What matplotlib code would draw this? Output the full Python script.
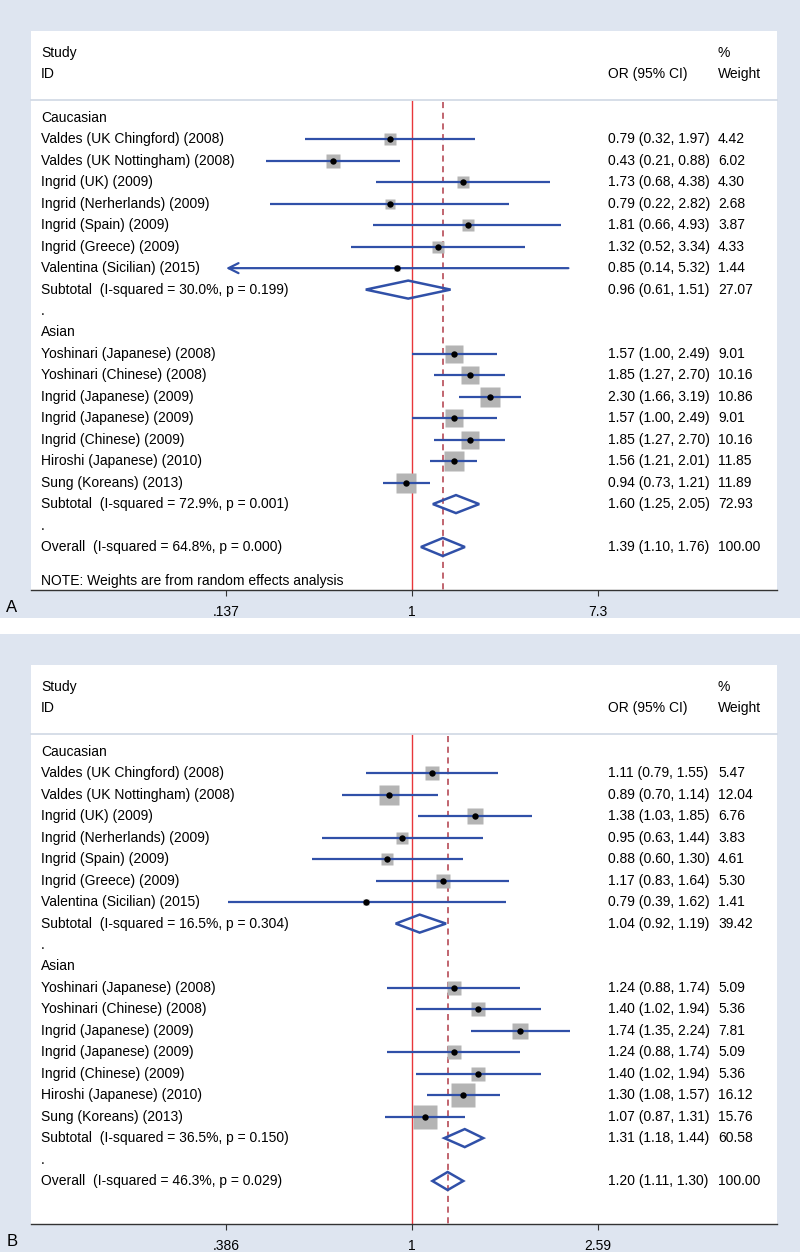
import numpy as np
import matplotlib
matplotlib.use("Agg")
import matplotlib.pyplot as plt
from matplotlib.patches import Rectangle, Polygon

plt.rcParams['font.family'] = ['Liberation Sans', 'DejaVu Sans']

# ---------------- data ----------------
groups = ["Caucasian", "Asian"]
studies_cau = ["Valdes (UK Chingford) (2008)", "Valdes (UK Nottingham) (2008)",
               "Ingrid (UK) (2009)", "Ingrid (Nerherlands) (2009)",
               "Ingrid (Spain) (2009)", "Ingrid (Greece) (2009)",
               "Valentina (Sicilian) (2015)"]
studies_asn = ["Yoshinari (Japanese) (2008)", "Yoshinari (Chinese) (2008)",
               "Ingrid (Japanese) (2009)", "Ingrid (Japanese) (2009)",
               "Ingrid (Chinese) (2009)", "Hiroshi (Japanese) (2010)",
               "Sung (Koreans) (2013)"]

# Panel A
a_or = [0.79, 0.43, 1.73, 0.79, 1.81, 1.32, 0.85, 1.57, 1.85, 2.30, 1.57, 1.85, 1.56, 0.94]
a_lo = [0.32, 0.21, 0.68, 0.22, 0.66, 0.52, 0.14, 1.00, 1.27, 1.66, 1.00, 1.27, 1.21, 0.73]
a_hi = [1.97, 0.88, 4.38, 2.82, 4.93, 3.34, 5.32, 2.49, 2.70, 3.19, 2.49, 2.70, 2.01, 1.21]
a_wt = [4.42, 6.02, 4.30, 2.68, 3.87, 4.33, 1.44, 9.01, 10.16, 10.86, 9.01, 10.16, 11.85, 11.89]
a_sub_or = [0.96, 1.60]
a_sub_lo = [0.61, 1.25]
a_sub_hi = [1.51, 2.05]
a_sub_wt = [27.07, 72.93]
a_sub_i2 = ["30.0%", "72.9%"]
a_sub_p = ["0.199", "0.001"]
a_all = (1.39, 1.10, 1.76, 100.00, "64.8%", "0.000")
a_ticks = [0.137, 1, 7.3]
a_ticklabels = [".137", "1", "7.3"]
a_arrow = [6]  # CI truncated at the left end of the scale

# Panel B
b_or = [1.11, 0.89, 1.38, 0.95, 0.88, 1.17, 0.79, 1.24, 1.40, 1.74, 1.24, 1.40, 1.30, 1.07]
b_lo = [0.79, 0.70, 1.03, 0.63, 0.60, 0.83, 0.39, 0.88, 1.02, 1.35, 0.88, 1.02, 1.08, 0.87]
b_hi = [1.55, 1.14, 1.85, 1.44, 1.30, 1.64, 1.62, 1.74, 1.94, 2.24, 1.74, 1.94, 1.57, 1.31]
b_wt = [5.47, 12.04, 6.76, 3.83, 4.61, 5.30, 1.41, 5.09, 5.36, 7.81, 5.09, 5.36, 16.12, 15.76]
b_sub_or = [1.04, 1.31]
b_sub_lo = [0.92, 1.18]
b_sub_hi = [1.19, 1.44]
b_sub_wt = [39.42, 60.58]
b_sub_i2 = ["16.5%", "36.5%"]
b_sub_p = ["0.304", "0.150"]
b_all = (1.20, 1.11, 1.30, 100.00, "46.3%", "0.029")
b_ticks = [0.386, 1, 2.59]
b_ticklabels = [".386", "1", "2.59"]
b_arrow = []

# ---------------- style ----------------
W, H = 800, 1258
BG = '#dee5f0'
BLUE = '#3050a8'
RED = '#e8363a'
DRED = '#b03a48'
GRAY = '#b4b4b4'
SEP = '#d3dbe6'
FS = 10

fig = plt.figure(figsize=(W / 100, H / 100), dpi=100)
fig.patch.set_facecolor('white')

ROW0 = 118.0   # pixel y of first row inside panel
ROWH = 21.45


def fx(px):
    return px / W


def fy(py):
    return 1 - py / H


def draw_panel(off, orv, lo, hi, wt, s_or, s_lo, s_hi, s_wt, s_i2, s_p, allv,
               ticks, ticklabels, xlim, letter, note, arrows):
    # background
    bg = Rectangle((0, fy(off + 618)), 1, 618 / H, transform=fig.transFigure,
                   facecolor=BG, edgecolor='none', zorder=-10)
    fig.add_artist(bg)
    top, bot = off + 31, off + 590
    ax = fig.add_axes([fx(31), fy(bot), fx(777 - 31), (bot - top) / H])
    ax.set_zorder(5)
    ax.set_facecolor('white')
    ax.set_xscale('log')
    ax.set_xlim(*xlim)
    ylo = (top - (off + ROW0)) / ROWH
    yhi = (bot - (off + ROW0)) / ROWH
    ax.set_ylim(yhi, ylo)
    for s in ['top', 'left', 'right']:
        ax.spines[s].set_visible(False)
    ax.spines['bottom'].set_color('#333333')
    ax.spines['bottom'].set_linewidth(1.0)
    ax.set_yticks([])
    ax.set_xticks(ticks)
    ax.set_xticklabels(ticklabels, fontsize=FS)
    ax.xaxis.set_minor_locator(matplotlib.ticker.NullLocator())
    ax.tick_params(axis='x', direction='out', length=4.5, width=0.8, color='#333333', pad=6)

    tr = ax.get_yaxis_transform()  # x axes-fraction, y data
    tx_lab, tx_or, tx_wt = (41 - 31) / 746, (608 - 31) / 746, (718 - 31) / 746

    # header
    y_sep = (off + 100 - (off + ROW0)) / ROWH
    ax.text(tx_lab, -3.05, "Study", transform=tr, fontsize=FS, va='center')
    ax.text(tx_lab, -2.05, "ID", transform=tr, fontsize=FS, va='center')
    ax.text(tx_or, -2.05, "OR (95% CI)", transform=tr, fontsize=FS, va='center')
    ax.text(tx_wt, -3.05, "%", transform=tr, fontsize=FS, va='center')
    ax.text(tx_wt, -2.05, "Weight", transform=tr, fontsize=FS, va='center')
    ax.plot([0, 1], [y_sep, y_sep], transform=tr, color=SEP, lw=1.3, clip_on=False)

    # reference lines
    ax.vlines(1, y_sep, yhi, color=RED, lw=1.0, zorder=1)
    ax.vlines(allv[0], y_sep + 0.1, yhi, color=DRED, lw=1.1, linestyles=(0, (4, 3)), zorder=1)

    names = [studies_cau, studies_asn]
    for g in range(2):
        base = g * 10
        ax.text(tx_lab, base, groups[g], transform=tr, fontsize=FS, va='center')
        for k in range(7):
            i = g * 7 + k
            r = base + 1 + k
            ax.text(tx_lab, r, names[g][k], transform=tr, fontsize=FS, va='center')
            ax.text(tx_or, r, f"{orv[i]:.2f} ({lo[i]:.2f}, {hi[i]:.2f})", transform=tr,
                    fontsize=FS, va='center')
            ax.text(tx_wt, r, f"{wt[i]:.2f}", transform=tr, fontsize=FS, va='center')
            side_px = 5.8 * np.sqrt(wt[i])
            ax.plot(orv[i], r, marker='s', ms=side_px * 0.72, color=GRAY, mec='none', zorder=2)
            if i in arrows:
                ax.annotate("", xy=(ticks[0], r), xytext=(hi[i], r),
                            arrowprops=dict(arrowstyle='->', color=BLUE, lw=1.6,
                                            mutation_scale=18, shrinkA=0, shrinkB=0),
                            zorder=3)
            else:
                ax.plot([lo[i], hi[i]], [r, r], color=BLUE, lw=1.6, solid_capstyle='butt', zorder=3)
            ax.plot(orv[i], r, marker='o', ms=4.6, color='black', mec='none', zorder=4)
        r = base + 8
        ax.text(tx_lab, r, f"Subtotal  (I-squared = {s_i2[g]}, p = {s_p[g]})", transform=tr,
                fontsize=FS, va='center')
        ax.text(tx_or, r, f"{s_or[g]:.2f} ({s_lo[g]:.2f}, {s_hi[g]:.2f})", transform=tr,
                fontsize=FS, va='center')
        ax.text(tx_wt, r, f"{s_wt[g]:.2f}", transform=tr, fontsize=FS, va='center')
        hh = 0.42
        ax.add_patch(Polygon([(s_lo[g], r), (s_or[g], r - hh), (s_hi[g], r), (s_or[g], r + hh)],
                             closed=True, facecolor='none', edgecolor=BLUE, lw=1.8, zorder=3))
        ax.text(tx_lab, base + 9, ".", transform=tr, fontsize=FS, va='center')

    r = 20
    ax.text(tx_lab, r, f"Overall  (I-squared = {allv[4]}, p = {allv[5]})", transform=tr,
            fontsize=FS, va='center')
    ax.text(tx_or, r, f"{allv[0]:.2f} ({allv[1]:.2f}, {allv[2]:.2f})", transform=tr,
            fontsize=FS, va='center')
    ax.text(tx_wt, r, f"{allv[3]:.2f}", transform=tr, fontsize=FS, va='center')
    hh = 0.42
    ax.add_patch(Polygon([(allv[1], r), (allv[0], r - hh), (allv[2], r), (allv[0], r + hh)],
                         closed=True, facecolor='none', edgecolor=BLUE, lw=1.8, zorder=3))
    if note:
        ax.text(tx_lab, 21.6, note, transform=tr, fontsize=FS, va='center')

    fig.text(fx(12), fy(off + 607), letter, fontsize=12, ha='center', va='center')
    return ax


xlimA = (0.01704, 49.45)
xlimB = (0.1423, 6.475)
draw_panel(0, a_or, a_lo, a_hi, a_wt, a_sub_or, a_sub_lo, a_sub_hi, a_sub_wt, a_sub_i2, a_sub_p,
           a_all, a_ticks, a_ticklabels, xlimA, "A",
           "NOTE: Weights are from random effects analysis", a_arrow)
draw_panel(634, b_or, b_lo, b_hi, b_wt, b_sub_or, b_sub_lo, b_sub_hi, b_sub_wt, b_sub_i2, b_sub_p,
           b_all, b_ticks, b_ticklabels, xlimB, "B", None, b_arrow)

fig.savefig("out.png", dpi=100, facecolor='white')
